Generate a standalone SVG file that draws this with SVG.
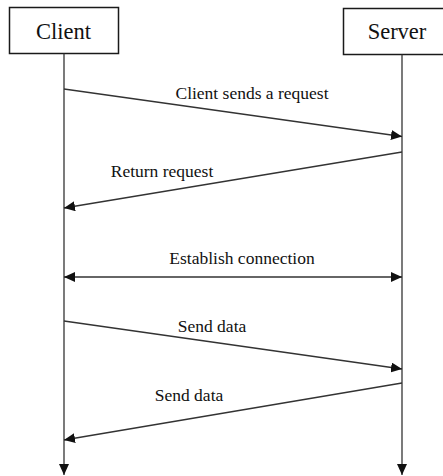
<svg xmlns="http://www.w3.org/2000/svg" width="443" height="476" viewBox="0 0 443 476">
<style>
  .box { fill: #ffffff; stroke: #1a1a1a; stroke-width: 1.5; }
  .title { font-family: "Liberation Serif", "Times New Roman", serif; font-size: 22.5px; fill: #111; text-anchor: middle; }
  .lbl { font-family: "Liberation Serif", "Times New Roman", serif; font-size: 17.5px; fill: #111; text-anchor: middle; }
  .life { stroke: #333; stroke-width: 1.3; fill: none; }
  .msg { stroke: #333; stroke-width: 1.3; fill: none; }
</style>
<defs>
  <marker id="ah" markerUnits="userSpaceOnUse" markerWidth="12" markerHeight="10" refX="11" refY="5" orient="auto">
    <path d="M0,0 L11,5 L0,10 Z" fill="#111"/>
  </marker>
  <marker id="ahs" markerUnits="userSpaceOnUse" markerWidth="12" markerHeight="10" refX="11" refY="5" orient="auto-start-reverse">
    <path d="M0,0 L11,5 L0,10 Z" fill="#111"/>
  </marker>
</defs>
<rect width="443" height="476" fill="#ffffff"/>
<g id="client">
  <rect class="box" x="9.5" y="7.5" width="109" height="46"/>
  <text class="title" x="63.5" y="38.5">Client</text>
</g>
<g id="server">
  <rect class="box" x="343.5" y="8.5" width="110" height="46"/>
  <text class="title" x="397" y="39">Server</text>
</g>
<g id="connectors">
  <line class="life" x1="64" y1="53.5" x2="64" y2="475" marker-end="url(#ah)"/>
  <line class="life" x1="402" y1="54.5" x2="402" y2="475" marker-end="url(#ah)"/>
  <line class="msg" x1="64" y1="89" x2="402" y2="136.5" marker-end="url(#ah)"/>
  <line class="msg" x1="402" y1="152" x2="64" y2="208" marker-end="url(#ah)"/>
  <line class="msg" x1="64" y1="277" x2="402" y2="277" marker-start="url(#ahs)" marker-end="url(#ah)"/>
  <line class="msg" x1="64" y1="321" x2="402" y2="369" marker-end="url(#ah)"/>
  <line class="msg" x1="402" y1="383" x2="64" y2="440" marker-end="url(#ah)"/>
</g>
<g id="labels">
  <text class="lbl" x="252" y="98.5">Client sends a request</text>
  <text class="lbl" x="162" y="176.5">Return request</text>
  <text class="lbl" x="242" y="263.5">Establish connection</text>
  <text class="lbl" x="212" y="331.5">Send data</text>
  <text class="lbl" x="189" y="400.5">Send data</text>
</g>
</svg>
